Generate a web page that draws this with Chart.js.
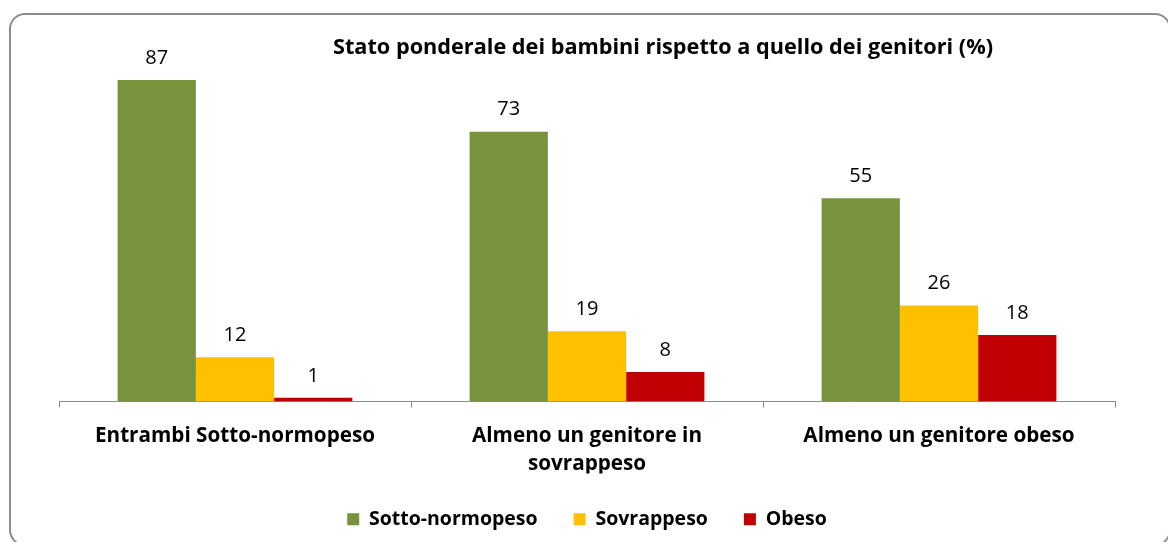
<!DOCTYPE html>
<html>
<head>
<meta charset="utf-8">
<script src="https://cdn.jsdelivr.net/npm/chart.js@4.4.1/dist/chart.umd.min.js"></script>
<style>
  html, body { margin: 0; padding: 0; background: #fff; }
  #wrap { position: relative; width: 1168px; height: 542px; overflow: hidden; }
  #frame {
    position: absolute; left: 9px; top: 13px; width: 1162px; height: 533px;
    border: 2px solid #8c8c8c; border-radius: 16px; box-sizing: border-box;
  }
  #chart { position: absolute; left: 0; top: 0; }
</style>
</head>
<body>
<div id="wrap">
  <div id="frame"></div>
  <canvas id="chart" width="1168" height="542"></canvas>
</div>
<script>
// data
const titleText = 'Stato ponderale dei bambini rispetto a quello dei genitori (%)';
const categories = [
    'Entrambi Sotto-normopeso',
    ['Almeno un genitore in', 'sovrappeso'],
    'Almeno un genitore obeso'
];
const seriesNames = ['Sotto-normopeso', 'Sovrappeso', 'Obeso'];
const sottoNormopeso = [87, 73, 55];
const sovrappeso = [12, 19, 26];
const obeso = [1, 8, 18];
const seriesColors = ['#77933C', '#FFC000', '#C00000'];

const FONT = '"Open Sans", Lato, sans-serif';

// title drawn inside the plot area, like the original
const titlePlugin = {
    id: 'floatTitle',
    afterDraw(chart) {
        const ctx = chart.ctx;
        ctx.save();
        ctx.font = 'bold 21.7px ' + FONT;
        ctx.fillStyle = '#000';
        ctx.textAlign = 'center';
        ctx.textBaseline = 'middle';
        ctx.fillText(titleText, 663, 48);
        ctx.restore();
    }
};

// value above each bar
const valueLabels = {
    id: 'valueLabels',
    afterDatasetsDraw(chart) {
        const ctx = chart.ctx;
        ctx.save();
        ctx.font = '20px ' + FONT;
        ctx.fillStyle = '#000';
        ctx.textAlign = 'center';
        ctx.textBaseline = 'middle';
        chart.data.datasets.forEach((ds, i) => {
            chart.getDatasetMeta(i).data.forEach((bar, j) => {
                ctx.fillText(ds.data[j], bar.x, bar.y - 22);
            });
        });
        ctx.restore();
    }
};

const valuesBySeries = [sottoNormopeso, sovrappeso, obeso];

new Chart(document.getElementById('chart'), {
    type: 'bar',
    data: {
        labels: categories,
        datasets: seriesNames.map((name, i) => ({
            label: name,
            data: valuesBySeries[i],
            backgroundColor: seriesColors[i],
            borderWidth: 0,
            categoryPercentage: 0.667,
            barPercentage: 1
        }))
    },
    options: {
        responsive: false,
        animation: false,
        layout: { padding: { top: 32, left: 59, right: 53, bottom: 3 } },
        scales: {
            y: { display: false, min: 0, max: 100 },
            x: {
                grid: {
                    offset: true,
                    drawOnChartArea: false,
                    tickLength: 6,
                    color: '#8c8c8c'
                },
                border: { display: true, color: '#8c8c8c', width: 1 },
                ticks: {
                    color: '#000',
                    padding: 15,
                    maxRotation: 0,
                    autoSkip: false,
                    font: { family: FONT, size: 20.7, weight: 'bold', lineHeight: 1.33 }
                },
                afterFit(scale) { scale.height = 72; }
            }
        },
        plugins: {
            title: { display: false },
            tooltip: { enabled: false },
            legend: {
                position: 'bottom',
                labels: {
                    boxWidth: 12,
                    boxHeight: 12,
                    padding: 36,
                    color: '#000',
                    font: { family: FONT, size: 19.5, weight: 'bold' }
                }
            }
        }
    },
    plugins: [titlePlugin, valueLabels]
});
</script>
</body>
</html>
